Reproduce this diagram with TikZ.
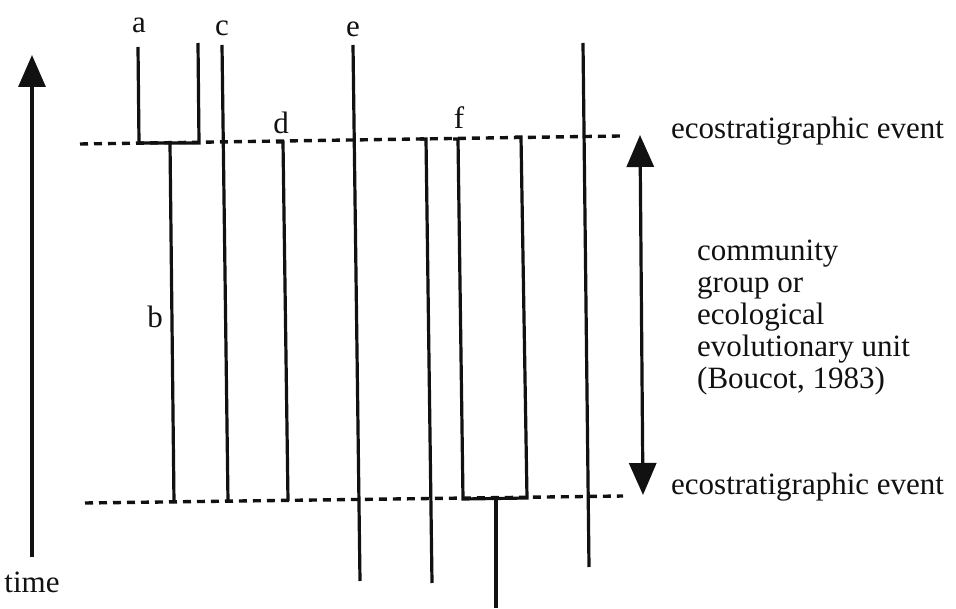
\documentclass[tikz,border=0pt]{standalone}
\usepackage{fontspec}
\setmainfont{Liberation Serif}
\usetikzlibrary{arrows.meta}
\definecolor{inkblack}{HTML}{111111}
\newcommand{\figfont}{\fontsize{31}{32}\selectfont}

\begin{document}
\begin{tikzpicture}[
    x=1pt, y=-1pt,
    >={Triangle[width=27pt, length=32pt]},
    lineage/.style={inkblack, line width=3.2pt},
    event/.style={inkblack, line width=3.4pt, dash pattern=on 8pt off 6pt},
    axis/.style={inkblack, line width=3.2pt, ->},
    lbl/.style={font=\figfont, text=inkblack, inner sep=0pt}
]
\useasboundingbox (0,0) rectangle (956,609);

% Time axis
\coordinate (t0) at (32,557);
\coordinate (t1) at (32,55);
\draw[axis] (t0) -- (t1);
\node[lbl] (time) at (32,582) {time};

% Ecostratigraphic events
\coordinate (ev1w) at (80,144);
\coordinate (ev1e) at (620,136);
\coordinate (ev2w) at (85,503);
\coordinate (ev2e) at (623,496);
\draw[event] (ev1w) -- (ev1e);
\draw[event] (ev2w) -- (ev2e);

% Lineage ends
\coordinate (aTop) at (138,47);   \coordinate (aFork) at (139,143);
\coordinate (a2Top) at (198,43);  \coordinate (a2Fork) at (199,143);
\coordinate (bTop) at (170,143);  \coordinate (bBot) at (174,503);
\coordinate (cTop) at (222,45);   \coordinate (cBot) at (228,502);
\coordinate (dHook) at (276,142); \coordinate (dTop) at (283,142);
\coordinate (dBot) at (288,501);
\coordinate (eTop) at (353,45);   \coordinate (eBot) at (360,581);
\coordinate (gHook) at (420,139); \coordinate (gTop) at (426,139);
\coordinate (gBot) at (432,583);
\coordinate (fHook) at (453,139); \coordinate (fTop) at (458,139);
\coordinate (fBot) at (463,499);
\coordinate (hHook) at (515,137); \coordinate (hTop) at (521,137);
\coordinate (hBot) at (527,498);
\coordinate (kTop) at (496,499);  \coordinate (kBot) at (496,608);
\coordinate (rTop) at (583,43);   \coordinate (rBot) at (589,567);

% Lineages
\draw[lineage] (aTop) -- (aFork) -- (a2Fork) -- (a2Top);
\draw[lineage] (bTop) -- (bBot);
\draw[lineage] (cTop) -- (cBot);
\draw[lineage] (dHook) -- (dTop) -- (dBot);
\draw[lineage] (eTop) -- (eBot);
\draw[lineage] (gHook) -- (gTop) -- (gBot);
\draw[lineage] (fHook) -- (fTop) -- (fBot) -- (hBot) -- (hTop) -- (hHook);
\draw[lineage] (kTop) -- (kBot);
\draw[lineage] (rTop) -- (rBot);

% Lineage labels
\node[lbl] (la) at (139,25) {a};
\node[lbl] (lb) at (155,317) {b};
\node[lbl] (lc) at (222,28) {c};
\node[lbl] (ld) at (281,123) {d};
\node[lbl] (le) at (353,29) {e};
\node[lbl] (lf) at (459,118) {f};

% Unit span
\coordinate (uTop) at (640,135);
\coordinate (uBot) at (643,495);
\draw[axis, <->] (uBot) -- (uTop);

% Right-hand text
\node[lbl, anchor=base west] (event1) at (671,139) {ecostratigraphic event};
\node[lbl, anchor=base west] (event2) at (671,494) {ecostratigraphic event};
\node[lbl, anchor=north west, align=left] (unit) at (697,240)
    {community\\group or\\ecological\\evolutionary unit\\(Boucot, 1983)};

\end{tikzpicture}
\end{document}
